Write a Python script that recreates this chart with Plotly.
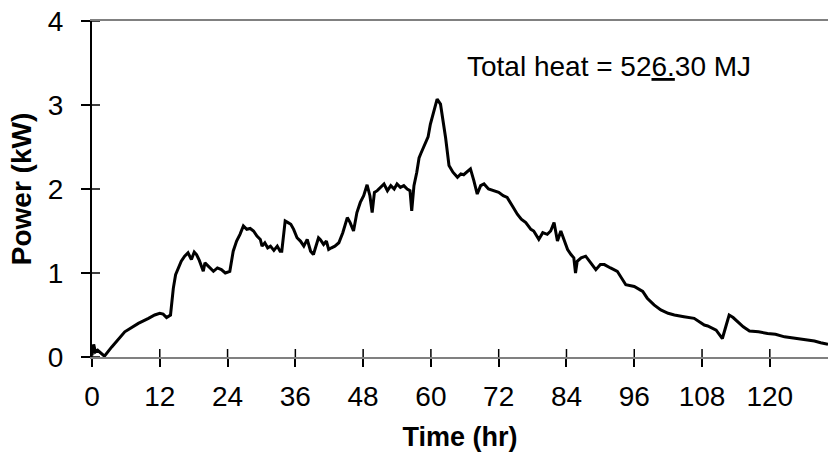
import plotly.graph_objects as go

# Time (hr) and power (kW)
time_hr = [0, 0.3, 0.6, 1.0, 2.2, 3.5, 5.8, 8.2, 10, 11.1, 12.0, 12.6, 13.2, 13.9, 14.4, 14.8,
           15.8, 16.4, 17.0, 17.6, 18.1, 18.5, 19.0, 19.7, 20.0, 20.6, 21.5, 22.2, 22.9, 23.6,
           24.4, 25.0, 25.6, 26.2, 26.8, 27.4, 28.0, 28.6, 29.2, 29.8, 30.1, 30.6, 31.1, 31.6,
           32.2, 32.8, 33.3, 33.6, 34.2, 34.7, 35.2, 35.7, 36.3, 36.9, 37.5, 38.1, 38.7, 39.2,
           39.6, 40.1, 40.4, 41.0, 41.5, 41.9, 42.4, 43.0, 43.7, 44.4, 45.2, 45.7, 46.3, 46.9,
           47.5, 48.1, 48.7, 49.2, 49.6, 50.0, 50.5, 51.1, 51.7, 52.3, 52.9, 53.5, 54.0, 54.6,
           55.2, 55.8, 56.3, 56.6, 57.0, 57.5, 57.9, 58.2, 58.6, 59.0, 59.5, 59.9, 60.5, 61.1,
           61.7, 62.2, 62.6, 63.2, 63.9, 64.7, 65.3, 65.8, 66.4, 67.0, 67.6, 68.2, 68.8, 69.4,
           70.2, 71.1, 72.0, 72.8, 73.5, 74.4, 75.3, 76.0, 76.8, 77.7, 78.2, 79.1, 79.8, 80.6,
           81.2, 81.8, 82.4, 83.0, 83.6, 84.2, 84.8, 85.3, 85.6, 85.9, 86.6, 87.4, 88.3, 89.2,
           90.0, 90.7, 91.8, 93.0, 94.5, 96.0, 97.5, 98.3, 99.5, 100.7, 102.0, 103.1, 104.8,
           106.6, 108.4, 109.0, 110.5, 111.6, 112.2, 112.8, 113.5, 114.3, 115.3, 116.4, 118.0,
           119.6, 121.0, 122.6, 123.8, 125.5, 127.9, 129.0, 130.3]
power_kw = [0.02, 0.15, 0.06, 0.08, 0.01, 0.12, 0.30, 0.40, 0.46, 0.50, 0.52, 0.51, 0.47, 0.50,
            0.82, 0.98, 1.14, 1.20, 1.24, 1.16, 1.25, 1.22, 1.15, 1.02, 1.12, 1.08, 1.02, 1.06,
            1.04, 1.00, 1.02, 1.26, 1.38, 1.46, 1.56, 1.52, 1.53, 1.50, 1.44, 1.40, 1.32, 1.36,
            1.30, 1.32, 1.27, 1.32, 1.26, 1.26, 1.62, 1.60, 1.58, 1.52, 1.42, 1.38, 1.32, 1.40,
            1.26, 1.22, 1.32, 1.42, 1.40, 1.34, 1.38, 1.28, 1.30, 1.32, 1.36, 1.48, 1.66, 1.60,
            1.50, 1.72, 1.84, 1.92, 2.05, 1.92, 1.72, 1.96, 1.98, 2.02, 2.06, 1.98, 2.04, 2.00,
            2.06, 2.02, 2.04, 2.00, 1.98, 1.74, 2.04, 2.20, 2.37, 2.42, 2.48, 2.53, 2.62, 2.77,
            2.92, 3.07, 3.01, 2.80, 2.61, 2.28, 2.20, 2.14, 2.18, 2.17, 2.20, 2.24, 2.10, 1.94,
            2.04, 2.06, 2.00, 1.98, 1.96, 1.92, 1.90, 1.80, 1.70, 1.64, 1.60, 1.52, 1.50, 1.40,
            1.48, 1.46, 1.50, 1.60, 1.38, 1.50, 1.38, 1.28, 1.22, 1.18, 1.00, 1.14, 1.18, 1.20,
            1.12, 1.04, 1.10, 1.10, 1.06, 1.02, 0.86, 0.84, 0.78, 0.70, 0.62, 0.56, 0.52, 0.50,
            0.48, 0.46, 0.38, 0.37, 0.32, 0.22, 0.36, 0.50, 0.47, 0.42, 0.36, 0.31, 0.30, 0.28,
            0.27, 0.24, 0.23, 0.21, 0.19, 0.17, 0.15]

x_ticks = [0, 12, 24, 36, 48, 60, 72, 84, 96, 108, 120]
y_ticks = [0, 1, 2, 3, 4]
annotation_text = "Total heat = 52<u>6.</u>30 MJ"
annotation_pos = (66.0, 3.46)

FONT = "Liberation Sans, Arial, sans-serif"
x_range = [0, 130.3]
y_range = [0, 4]

fig = go.Figure()
fig.add_trace(go.Scatter(x=time_hr, y=power_kw, mode="lines",
                         line=dict(color="black", width=3), showlegend=False,
                         hoverinfo="skip"))

# inward halves of the crossing tick marks (outer halves come from the axes)
shapes = []
for t in x_ticks:
    shapes.append(dict(type="line", xref="x", yref="y", x0=t, x1=t,
                       ysizemode="pixel", yanchor=0, y0=0, y1=8,
                       line=dict(color="black", width=1.5), layer="above"))
for t in y_ticks:
    shapes.append(dict(type="line", xref="x", yref="y", y0=t, y1=t,
                       xsizemode="pixel", xanchor=0, x0=0, x1=8,
                       line=dict(color="black", width=1.5), layer="above"))

fig.update_layout(
    width=828, height=456,
    margin=dict(l=92, r=0, t=21, b=99),
    paper_bgcolor="white", plot_bgcolor="white",
    font=dict(family=FONT, color="black"),
    xaxis=dict(range=x_range, tickvals=x_ticks, ticks="outside", ticklen=8, tickwidth=1.5,
               tickcolor="black", showline=True, linecolor="#808080", linewidth=2,
               mirror=True, showgrid=False, zeroline=False,
               tickfont=dict(size=28, family=FONT), ticklabelstandoff=5,
               title=dict(text="<b>Time (hr)</b>", font=dict(size=27, family=FONT), standoff=17)),
    yaxis=dict(range=y_range, tickvals=y_ticks, ticks="outside", ticklen=9, tickwidth=1.5,
               tickcolor="black", showline=True, linecolor="black", linewidth=2,
               showgrid=False, zeroline=False,
               tickfont=dict(size=28, family=FONT), ticklabelstandoff=12,
               title=dict(text="<b>Power (kW)</b>", font=dict(size=28, family=FONT), standoff=8)),
    shapes=shapes,
    annotations=[dict(x=annotation_pos[0], y=annotation_pos[1], xref="x", yref="y",
                      text=annotation_text, showarrow=False, xanchor="left", yanchor="middle",
                      font=dict(size=28, family=FONT))],
)

fig.write_html("out.html")
